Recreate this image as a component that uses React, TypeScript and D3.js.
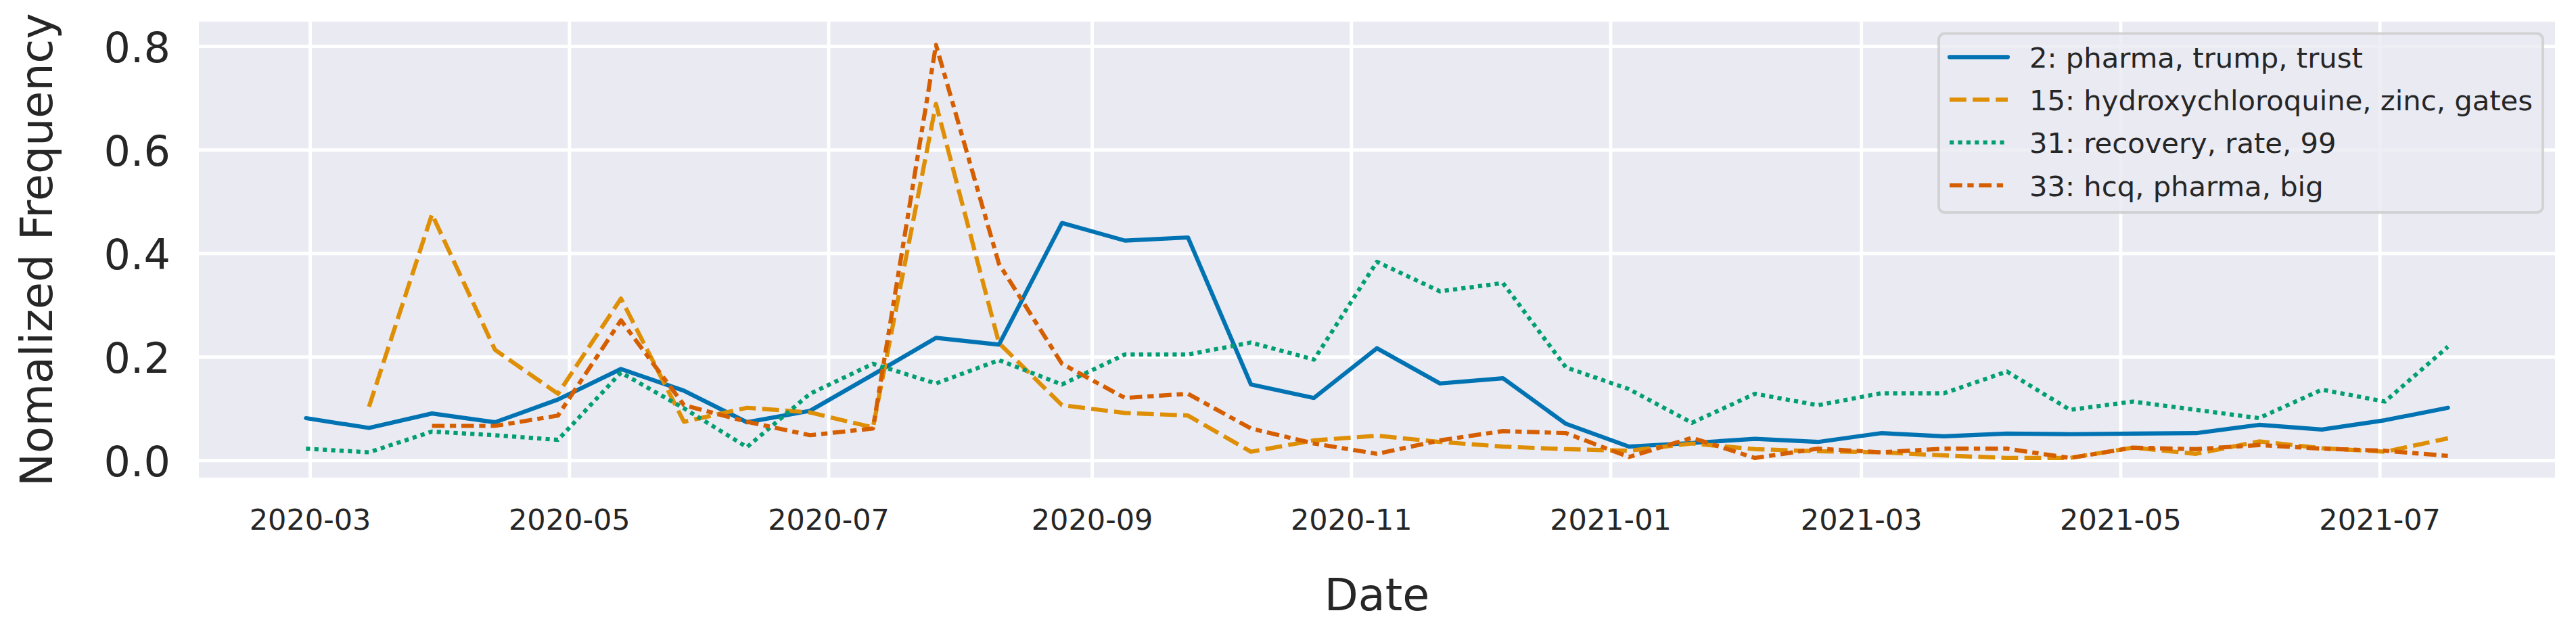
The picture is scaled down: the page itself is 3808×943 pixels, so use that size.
import React, { useEffect } from 'react';
import * as d3 from 'd3';

// ---- data ----
const dates: string[] = [
  '2020-02-29T00:00', '2020-03-14T19:46', '2020-03-29T15:32', '2020-04-13T11:18',
  '2020-04-28T07:04', '2020-05-13T02:49', '2020-05-27T22:35', '2020-06-11T18:21',
  '2020-06-26T14:07', '2020-07-11T09:53', '2020-07-26T05:39', '2020-08-10T01:25',
  '2020-08-24T21:11', '2020-09-08T16:56', '2020-09-23T12:42', '2020-10-08T08:28',
  '2020-10-23T04:14', '2020-11-07T00:00', '2020-11-21T19:46', '2020-12-06T15:32',
  '2020-12-21T11:18', '2021-01-05T07:04', '2021-01-20T02:49', '2021-02-03T22:35',
  '2021-02-18T18:21', '2021-03-05T14:07', '2021-03-20T09:53', '2021-04-04T05:39',
  '2021-04-19T01:25', '2021-05-03T21:11', '2021-05-18T16:56', '2021-06-02T12:42',
  '2021-06-17T08:28', '2021-07-02T04:14', '2021-07-17T00:00',
];

const topic2: (number | null)[] = [
  0.082, 0.063, 0.091, 0.074, 0.118, 0.177, 0.135, 0.074, 0.096, 0.166,
  0.237, 0.224, 0.459, 0.425, 0.431, 0.147, 0.121, 0.217, 0.149, 0.159,
  0.071, 0.027, 0.034, 0.042, 0.036, 0.053, 0.047, 0.052, 0.051, 0.052,
  0.053, 0.069, 0.060, 0.078, 0.102,
];
const topic15: (number | null)[] = [
  null, 0.104, 0.476, 0.214, 0.129, 0.313, 0.075, 0.102, 0.093, 0.064,
  0.689, 0.227, 0.107, 0.092, 0.087, 0.017, 0.039, 0.048, 0.036, 0.027,
  0.022, 0.019, 0.033, 0.022, 0.018, 0.016, 0.010, 0.005, 0.005, 0.025,
  0.013, 0.037, 0.024, 0.017, 0.043,
];
const topic31: (number | null)[] = [
  0.023, 0.016, 0.056, 0.049, 0.040, 0.170, 0.101, 0.026, 0.129, 0.187,
  0.149, 0.194, 0.147, 0.205, 0.205, 0.228, 0.195, 0.384, 0.327, 0.343,
  0.180, 0.138, 0.073, 0.129, 0.107, 0.130, 0.130, 0.172, 0.098, 0.114,
  0.098, 0.082, 0.137, 0.114, 0.220,
];
const topic33: (number | null)[] = [
  null, null, 0.067, 0.067, 0.087, 0.271, 0.107, 0.075, 0.049, 0.062,
  0.803, 0.380, 0.187, 0.121, 0.129, 0.062, 0.033, 0.013, 0.039, 0.057,
  0.053, 0.007, 0.044, 0.005, 0.023, 0.016, 0.023, 0.023, 0.005, 0.025,
  0.022, 0.030, 0.023, 0.019, 0.009,
];

const seriesLabels: string[] = [
  '2: pharma, trump, trust',
  '15: hydroxychloroquine, zinc, gates',
  '31: recovery, rate, 99',
  '33: hcq, pharma, big',
];

const xTickLabels: string[] = [
  '2020-03', '2020-05', '2020-07', '2020-09', '2020-11',
  '2021-01', '2021-03', '2021-05', '2021-07',
];
const yTickValues: number[] = [0.0, 0.2, 0.4, 0.6, 0.8];

// ---- styles ----
const W = 3808;
const H = 943;
const plot = { left: 294, right: 3777, top: 32, bottom: 706 };
const colors = ['#0173B2', '#DE8F05', '#029E73', '#D55E00'];
const LW = 6.2;
const dashes = [
  '',
  `${4 * LW} ${1.5 * LW}`,
  `${1 * LW} ${1 * LW}`,
  `${3 * LW} ${1.25 * LW} ${1.5 * LW} ${1.25 * LW}`,
];
const FONT = "'DejaVu Sans', sans-serif";
const TEXT = '#262626';
const BG = '#EAEAF2';

export default function App() {
  useEffect(() => {
    document.body.style.margin = '0';
  }, []);

  const parsed = dates.map((s) => new Date(s));
  const [t0, t1] = d3.extent(parsed) as [Date, Date];
  const span = +t1 - +t0;
  const x = d3
    .scaleTime()
    .domain([new Date(+t0 - 0.05 * span), new Date(+t1 + 0.05 * span)])
    .range([plot.left, plot.right]);
  const y = d3.scaleLinear().domain([-0.033, 0.848]).range([plot.bottom, plot.top]);

  const allSeries = [topic2, topic15, topic31, topic33];

  const line = d3
    .line<number | null>()
    .defined((d) => d !== null)
    .x((_, i) => x(parsed[i]))
    .y((d) => y(d as number));

  const xTicks = xTickLabels.map((l) => ({ label: l, date: new Date(l + '-01T00:00') }));

  const legend = { x: 2866, y: 49.5, w: 893, h: 264.5 };
  const rowY = [84.3, 147.3, 210.5, 274];

  return (
    <svg
      width={W}
      height={H}
      viewBox={`0 0 ${W} ${H}`}
      style={{ position: 'absolute', left: 0, top: 0, background: '#ffffff', display: 'block' }}
    >
      <rect x={0} y={0} width={W} height={H} fill="#ffffff" />
      <rect
        x={plot.left}
        y={plot.top}
        width={plot.right - plot.left}
        height={plot.bottom - plot.top}
        fill={BG}
      />
      {/* grid */}
      <g stroke="#ffffff" strokeWidth={4.8}>
        {yTickValues.map((v) => (
          <line key={'gy' + v} x1={plot.left} x2={plot.right} y1={y(v)} y2={y(v)} />
        ))}
        {xTicks.map((t) => (
          <line key={'gx' + t.label} x1={x(t.date)} x2={x(t.date)} y1={plot.top} y2={plot.bottom} />
        ))}
      </g>

      {/* lines */}
      {allSeries.map((s, i) => (
        <path
          key={'s' + i}
          d={line(s) || ''}
          fill="none"
          stroke={colors[i]}
          strokeWidth={LW}
          strokeDasharray={dashes[i] || undefined}
          strokeLinecap={i === 0 ? 'round' : 'butt'}
          strokeLinejoin="round"
        />
      ))}

      {/* y ticks */}
      <g fontFamily={FONT} fontSize={62} fill={TEXT} textAnchor="end">
        {yTickValues.map((v) => (
          <text key={'ty' + v} x={252} y={y(v) + 23}>
            {v.toFixed(1)}
          </text>
        ))}
      </g>
      {/* x ticks */}
      <g fontFamily={FONT} fontSize={43} fill={TEXT} textAnchor="middle">
        {xTicks.map((t) => (
          <text key={'tx' + t.label} x={x(t.date)} y={783}>
            {t.label}
          </text>
        ))}
      </g>

      {/* axis labels */}
      <text
        x={(plot.left + plot.right) / 2}
        y={902}
        fontFamily={FONT}
        fontSize={65}
        fill={TEXT}
        textAnchor="middle"
      >
        Date
      </text>
      <text
        transform={`translate(77, ${(plot.top + plot.bottom) / 2}) rotate(-90)`}
        fontFamily={FONT}
        fontSize={65}
        fill={TEXT}
        textAnchor="middle"
      >
        Nomalized Frequency
      </text>

      {/* legend */}
      <rect
        x={legend.x}
        y={legend.y}
        width={legend.w}
        height={legend.h}
        rx={9}
        ry={9}
        fill={BG}
        fillOpacity={0.8}
        stroke="#CCCCCC"
        strokeOpacity={0.8}
        strokeWidth={4}
      />
      {seriesLabels.map((lab, i) => (
        <g key={'lg' + i}>
          <line
            x1={2882}
            x2={2968}
            y1={rowY[i]}
            y2={rowY[i]}
            stroke={colors[i]}
            strokeWidth={LW}
            strokeDasharray={dashes[i] || undefined}
            strokeLinecap={i === 0 ? 'round' : 'butt'}
          />
          <text x={3000} y={rowY[i] + 15.5} fontFamily={FONT} fontSize={41.7} fill={TEXT}>
            {lab}
          </text>
        </g>
      ))}
    </svg>
  );
}
